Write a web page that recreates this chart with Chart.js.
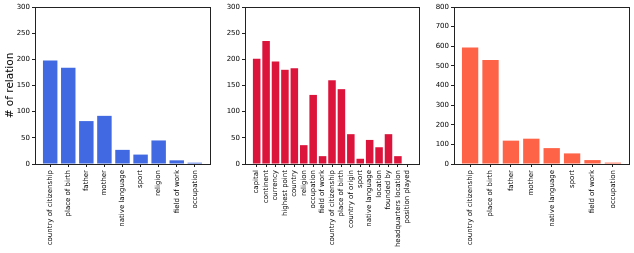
<!DOCTYPE html>
<html>
<head>
<meta charset="utf-8">
<script src="https://cdn.jsdelivr.net/npm/chart.js@4/dist/chart.umd.min.js"></script>
<style>
  body { margin: 0; background: #fff; }
  #wrap { position: relative; width: 634px; height: 253px; }
  .panel { position: absolute; top: 0; height: 253px; }
</style>
</head>
<body>
<div id="wrap">
  <div class="panel" style="left:0;width:214px"><canvas id="c1"></canvas></div>
  <div class="panel" style="left:214px;width:209px"><canvas id="c2"></canvas></div>
  <div class="panel" style="left:423px;width:211px"><canvas id="c3"></canvas></div>
</div>
<script>
// left panel
const personLabels = ["country of citizenship", "place of birth", "father", "mother",
  "native language", "sport", "religion", "field of work", "occupation"];
const personValues = [198, 184, 82, 92, 27, 18, 45, 7, 2.5];

// middle panel
const mixedLabels = ["capital", "continent", "currency", "highest point", "country",
  "religion", "occupation", "field of work", "country of citizenship", "place of birth",
  "country of origin", "sport", "native language", "location", "founded by",
  "headquarters location", "position played"];
const mixedValues = [201, 235, 196, 180, 183, 36, 132, 15, 160, 143, 57, 10, 46, 32, 57, 15, 1];

// right panel
const totalLabels = ["country of citizenship", "place of birth", "father", "mother",
  "native language", "sport", "field of work", "occupation"];
const totalValues = [594, 530, 119, 129, 81, 54, 20, 7];

const FONT = "'DejaVu Sans', sans-serif";

const framePlugin = {
  id: "frame",
  afterDatasetsDraw(chart) {
    const a = chart.chartArea, ctx = chart.ctx;
    ctx.save();
    ctx.strokeStyle = "#222";
    ctx.lineWidth = 1;
    ctx.strokeRect(Math.round(a.left) + 0.5, Math.round(a.top) + 0.5,
      Math.round(a.right - a.left), Math.round(a.bottom - a.top));
    ctx.restore();
  }
};

function makeChart(id, labels, values, color, yMax, yStep, yWidth, padLeft, padRight, title) {
  const n = labels.length;
  const margin = (n - 1 + 0.8) * 0.05;
  new Chart(document.getElementById(id), {
    type: "bar",
    data: {
      datasets: [{
        data: values.map((v, i) => ({ x: i, y: v })),
        backgroundColor: color,
        barPercentage: 0.8,
        categoryPercentage: 1
      }]
    },
    options: {
      responsive: true,
      maintainAspectRatio: false,
      animation: false,
      layout: { padding: { top: 7, right: padRight, left: padLeft, bottom: 0 } },
      plugins: { legend: { display: false }, tooltip: { enabled: false } },
      scales: {
        x: {
          type: "linear",
          offset: false,
          min: -0.4 - margin,
          max: n - 1 + 0.4 + margin,
          afterBuildTicks: s => { s.ticks = labels.map((_, i) => ({ value: i })); },
          afterFit: s => { s.height = 89; },
          grid: { display: true, offset: false, drawOnChartArea: false, tickLength: 3, tickColor: "#222" },
          border: { display: false },
          ticks: {
            autoSkip: false, minRotation: 90, maxRotation: 90, padding: 3,
            color: "#000", font: { family: FONT, size: 7 },
            callback: v => labels[v]
          }
        },
        y: {
          min: 0, max: yMax,
          afterFit: s => { s.width = yWidth; },
          grid: { display: true, drawOnChartArea: false, tickLength: 3, tickColor: "#222" },
          border: { display: false },
          ticks: { stepSize: yStep, padding: 2, color: "#000", font: { family: FONT, size: 7 } },
          title: {
            display: !!title, text: title, color: "#000", padding: { top: 0, bottom: 0 },
            font: { family: FONT, size: 10.5 }
          }
        }
      }
    },
    plugins: [framePlugin]
  });
}

makeChart("c1", personLabels, personValues, "#4169E1", 300, 50, 31, 4, 4, "# of relation");
makeChart("c2", mixedLabels, mixedValues, "#DC143C", 300, 50, 31, 0, 4, "");
makeChart("c3", totalLabels, totalValues, "#FF6347", 800, 100, 31, 0, 5, "");
</script>
</body>
</html>
